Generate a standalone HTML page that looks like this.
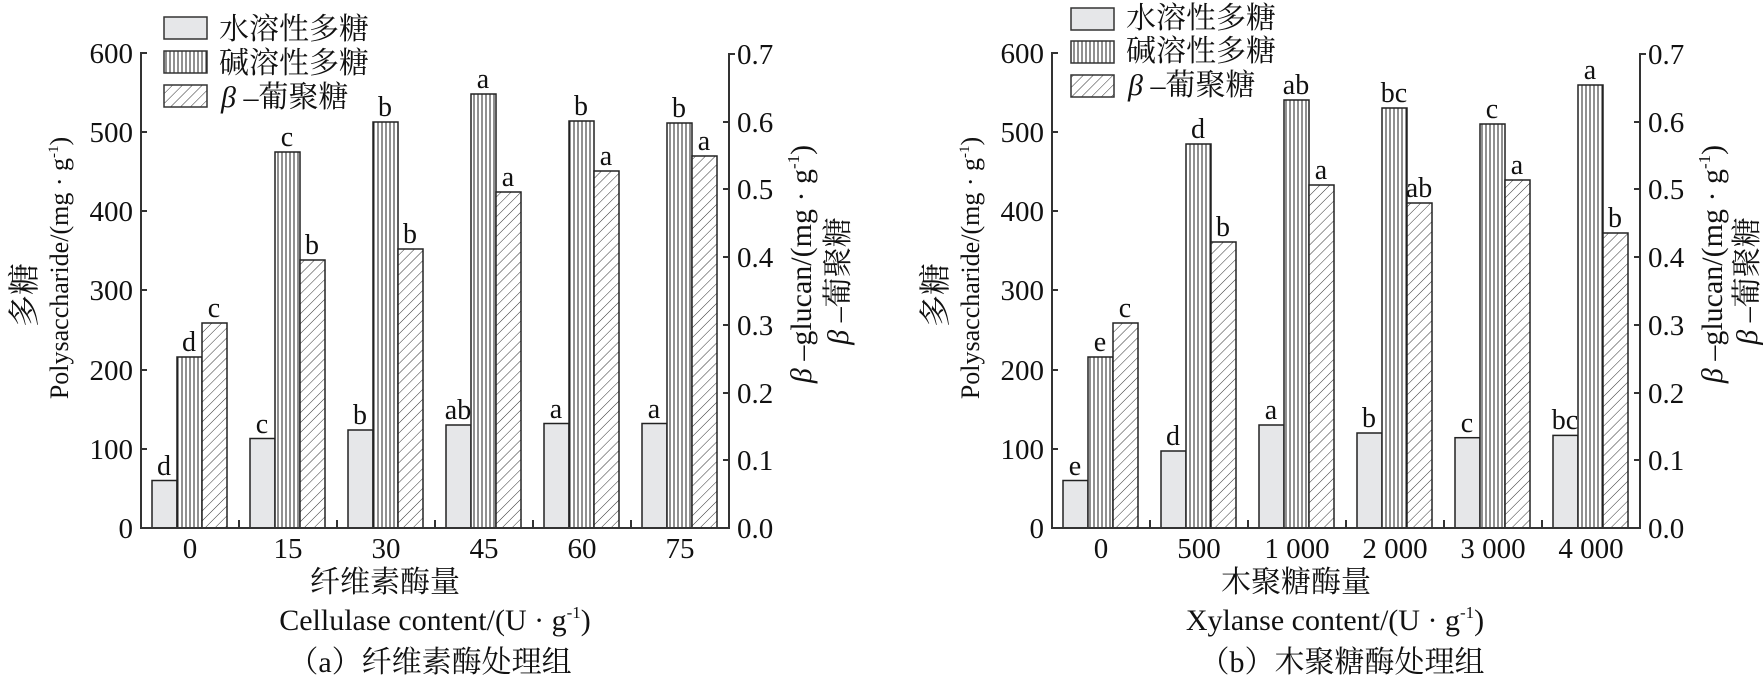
<!DOCTYPE html>
<html><head><meta charset="utf-8"><style>
html,body{margin:0;padding:0;background:#fff;}
svg{display:block;}
text{font-family:"Liberation Serif","Noto Serif CJK SC","Noto Sans CJK SC",serif;fill:#111;}
.t{font-size:29px;}
.l{font-size:28px;}
.c{font-family:"Liberation Serif","Noto Serif CJK SC",serif;font-size:30px;}
</style></head><body>
<svg width="1763" height="680" viewBox="0 0 1763 680" xmlns="http://www.w3.org/2000/svg">
<defs>
<pattern id="vl" width="4" height="10" patternUnits="userSpaceOnUse"><rect width="4" height="10" fill="#fff"/><line x1="2" y1="0" x2="2" y2="10" stroke="#222" stroke-width="1"/></pattern>
<pattern id="dg" width="7" height="7" patternUnits="userSpaceOnUse" patternTransform="rotate(45)"><rect width="7" height="7" fill="#fff"/><line x1="0" y1="0" x2="0" y2="7" stroke="#333" stroke-width="1"/></pattern>
</defs>
<g stroke="#222" stroke-width="1.5">
<rect x="152" y="480.5" width="25" height="47.5" fill="#e6e7e9"/>
<rect x="177" y="357" width="25" height="171" fill="url(#vl)"/>
<rect x="202" y="323" width="25" height="205" fill="url(#dg)"/>
<rect x="250" y="438.5" width="25" height="89.5" fill="#e6e7e9"/>
<rect x="275" y="152" width="25" height="376" fill="url(#vl)"/>
<rect x="300" y="260" width="25" height="268" fill="url(#dg)"/>
<rect x="348" y="430" width="25" height="98" fill="#e6e7e9"/>
<rect x="373" y="122" width="25" height="406" fill="url(#vl)"/>
<rect x="398" y="249" width="25" height="279" fill="url(#dg)"/>
<rect x="446" y="425" width="25" height="103" fill="#e6e7e9"/>
<rect x="471" y="94" width="25" height="434" fill="url(#vl)"/>
<rect x="496" y="192" width="25" height="336" fill="url(#dg)"/>
<rect x="544" y="423.5" width="25" height="104.5" fill="#e6e7e9"/>
<rect x="569" y="121" width="25" height="407" fill="url(#vl)"/>
<rect x="594" y="171" width="25" height="357" fill="url(#dg)"/>
<rect x="642" y="423.5" width="25" height="104.5" fill="#e6e7e9"/>
<rect x="667" y="123" width="25" height="405" fill="url(#vl)"/>
<rect x="692" y="156" width="25" height="372" fill="url(#dg)"/>
<rect x="1063" y="480.5" width="25" height="47.5" fill="#e6e7e9"/>
<rect x="1088" y="357" width="25" height="171" fill="url(#vl)"/>
<rect x="1113" y="323" width="25" height="205" fill="url(#dg)"/>
<rect x="1161" y="451" width="25" height="77" fill="#e6e7e9"/>
<rect x="1186" y="144" width="25" height="384" fill="url(#vl)"/>
<rect x="1211" y="242" width="25" height="286" fill="url(#dg)"/>
<rect x="1259" y="425" width="25" height="103" fill="#e6e7e9"/>
<rect x="1284" y="100" width="25" height="428" fill="url(#vl)"/>
<rect x="1309" y="185" width="25" height="343" fill="url(#dg)"/>
<rect x="1357" y="433" width="25" height="95" fill="#e6e7e9"/>
<rect x="1382" y="108" width="25" height="420" fill="url(#vl)"/>
<rect x="1407" y="203" width="25" height="325" fill="url(#dg)"/>
<rect x="1455" y="437.7" width="25" height="90.3" fill="#e6e7e9"/>
<rect x="1480" y="124" width="25" height="404" fill="url(#vl)"/>
<rect x="1505" y="180" width="25" height="348" fill="url(#dg)"/>
<rect x="1553" y="435.4" width="25" height="92.6" fill="#e6e7e9"/>
<rect x="1578" y="85" width="25" height="443" fill="url(#vl)"/>
<rect x="1603" y="233" width="25" height="295" fill="url(#dg)"/>
</g>
<g stroke="#333" stroke-width="2" fill="none">
<path d="M147,53 H141 V528 H729 V54 H735"/>
<path d="M141,449 h6 M141,370 h6 M141,290 h6 M141,211 h6 M141,132 h6"/>
<path d="M729,460 h-6 M729,393 h-6 M729,325 h-6 M729,257 h-6 M729,189 h-6 M729,122 h-6"/>
<path d="M239,528 v-8 M337,528 v-8 M435,528 v-8 M533,528 v-8 M631,528 v-8"/>
</g>
<g stroke="#333" stroke-width="2" fill="none" transform="translate(911,0)">
<path d="M147,53 H141 V528 H729 V54 H735"/>
<path d="M141,449 h6 M141,370 h6 M141,290 h6 M141,211 h6 M141,132 h6"/>
<path d="M729,460 h-6 M729,393 h-6 M729,325 h-6 M729,257 h-6 M729,189 h-6 M729,122 h-6"/>
<path d="M239,528 v-8 M337,528 v-8 M435,528 v-8 M533,528 v-8 M631,528 v-8"/>
</g>
<g class="t" text-anchor="end">
<text x="133" y="538">0</text><text x="133" y="459">100</text><text x="133" y="380">200</text><text x="133" y="300">300</text><text x="133" y="221">400</text><text x="133" y="142">500</text><text x="133" y="63">600</text>
<text x="1044" y="538">0</text><text x="1044" y="459">100</text><text x="1044" y="380">200</text><text x="1044" y="300">300</text><text x="1044" y="221">400</text><text x="1044" y="142">500</text><text x="1044" y="63">600</text>
</g>
<g class="t">
<text x="737" y="538">0.0</text><text x="737" y="470">0.1</text><text x="737" y="403">0.2</text><text x="737" y="335">0.3</text><text x="737" y="267">0.4</text><text x="737" y="199">0.5</text><text x="737" y="132">0.6</text><text x="737" y="64">0.7</text>
<text x="1648" y="538">0.0</text><text x="1648" y="470">0.1</text><text x="1648" y="403">0.2</text><text x="1648" y="335">0.3</text><text x="1648" y="267">0.4</text><text x="1648" y="199">0.5</text><text x="1648" y="132">0.6</text><text x="1648" y="64">0.7</text>
</g>
<g class="t" text-anchor="middle">
<text x="190" y="558">0</text><text x="288" y="558">15</text><text x="386" y="558">30</text><text x="484" y="558">45</text><text x="582" y="558">60</text><text x="680" y="558">75</text>
<text x="1101" y="558">0</text><text x="1199" y="558">500</text><text x="1297" y="558">1 000</text><text x="1395" y="558">2 000</text><text x="1493" y="558">3 000</text><text x="1591" y="558">4 000</text>
</g>
<g class="l" text-anchor="middle">
<text x="164" y="475">d</text><text x="189" y="351">d</text><text x="214" y="317">c</text>
<text x="262" y="433">c</text><text x="287" y="146">c</text><text x="312" y="254">b</text>
<text x="360" y="424">b</text><text x="385" y="116">b</text><text x="410" y="243">b</text>
<text x="458" y="419">ab</text><text x="483" y="88">a</text><text x="508" y="186">a</text>
<text x="556" y="418">a</text><text x="581" y="115">b</text><text x="606" y="165">a</text>
<text x="654" y="418">a</text><text x="679" y="117">b</text><text x="704" y="150">a</text>
<text x="1075" y="475">e</text><text x="1100" y="351">e</text><text x="1125" y="317">c</text>
<text x="1173" y="445">d</text><text x="1198" y="138">d</text><text x="1223" y="236">b</text>
<text x="1271" y="419">a</text><text x="1296" y="94">ab</text><text x="1321" y="179">a</text>
<text x="1369" y="427">b</text><text x="1394" y="102">bc</text><text x="1419" y="197">ab</text>
<text x="1467" y="432">c</text><text x="1492" y="118">c</text><text x="1517" y="174">a</text>
<text x="1565" y="429">bc</text><text x="1590" y="79">a</text><text x="1615" y="227">b</text>
</g>
<g stroke="#333" stroke-width="1.5">
<rect x="164" y="17" width="43" height="22" fill="#e6e7e9"/>
<rect x="164" y="51" width="43" height="22" fill="url(#vl)"/>
<rect x="164" y="85" width="43" height="22" fill="url(#dg)"/>
<rect x="1071" y="8" width="43" height="22" fill="#e6e7e9"/>
<rect x="1071" y="41" width="43" height="22" fill="url(#vl)"/>
<rect x="1071" y="75" width="43" height="22" fill="url(#dg)"/>
</g>
<g class="c">
<text x="219" y="39">水溶性多糖</text><text x="219" y="73">碱溶性多糖</text><text x="221" y="107"><tspan font-style="italic">β</tspan> –葡聚糖</text>
<text x="1126" y="28">水溶性多糖</text><text x="1126" y="61">碱溶性多糖</text><text x="1128" y="95"><tspan font-style="italic">β</tspan> –葡聚糖</text>
</g>
<g class="c" text-anchor="middle">
<text x="385" y="592">纤维素酶量</text>
<text x="435" y="630">Cellulase content/(U · g<tspan dy="-12" font-size="17">-1</tspan><tspan dy="12">)</tspan></text>
<text x="430" y="672">（a）纤维素酶处理组</text>
<text x="1296" y="592">木聚糖酶量</text>
<text x="1335" y="630">Xylanse content/(U · g<tspan dy="-12" font-size="17">-1</tspan><tspan dy="12">)</tspan></text>
<text x="1342" y="672">（b）木聚糖酶处理组</text>
<text transform="translate(35,295) rotate(-90)" font-size="32">多糖</text>
<text transform="translate(68,268) rotate(-90)" font-size="26">Polysaccharide/(mg · g<tspan dy="-10" font-size="15">-1</tspan><tspan dy="10">)</tspan></text>
<text transform="translate(946,295) rotate(-90)" font-size="32">多糖</text>
<text transform="translate(979,268) rotate(-90)" font-size="26">Polysaccharide/(mg · g<tspan dy="-10" font-size="15">-1</tspan><tspan dy="10">)</tspan></text>
<text transform="translate(811,264) rotate(-90)"><tspan font-style="italic">β</tspan> –glucan/(mg · g<tspan dy="-12" font-size="17">-1</tspan><tspan dy="12">)</tspan></text>
<text transform="translate(848,281) rotate(-90)"><tspan font-style="italic">β</tspan> –葡聚糖</text>
<text transform="translate(1722,264) rotate(-90)"><tspan font-style="italic">β</tspan> –glucan/(mg · g<tspan dy="-12" font-size="17">-1</tspan><tspan dy="12">)</tspan></text>
<text transform="translate(1757,281) rotate(-90)"><tspan font-style="italic">β</tspan> –葡聚糖</text>
</g>
</svg>
</body></html>
